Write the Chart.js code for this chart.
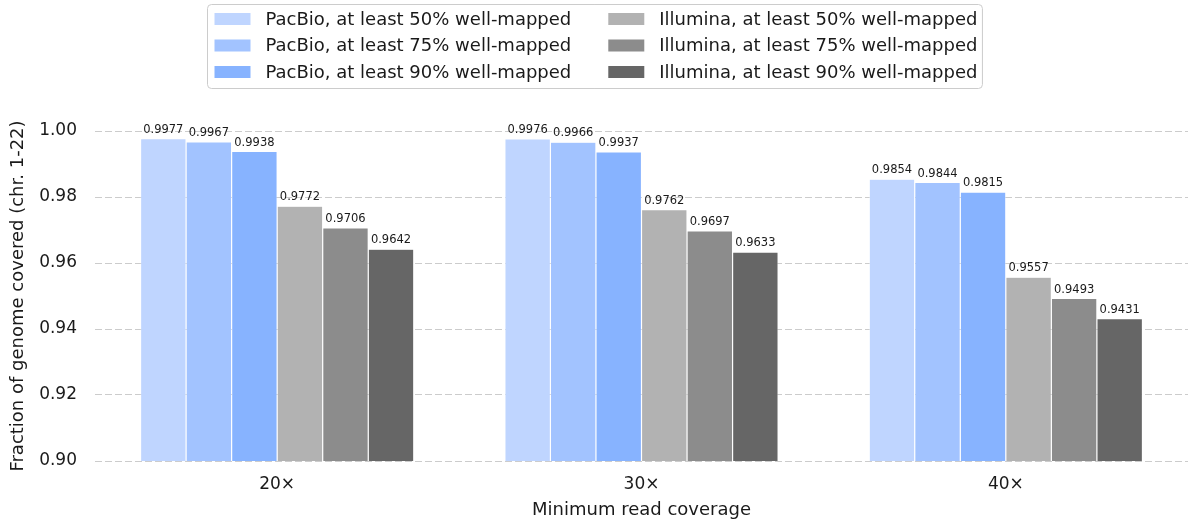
<!DOCTYPE html>
<html>
<head>
<meta charset="utf-8">
<script src="https://cdn.jsdelivr.net/npm/chart.js@4.4.0/dist/chart.umd.min.js"></script>
<style>
    html, body { margin: 0; padding: 0; background: #fff; }
    #wrap { width: 1189px; height: 522px; }
</style>
</head>
<body>
<div id="wrap"><canvas id="chart"></canvas></div>
<script>
// dados
const categories = ['20×', '30×', '40×'];
const pacbio50 = [0.9977, 0.9976, 0.9854];
const pacbio75 = [0.9967, 0.9966, 0.9844];
const pacbio90 = [0.9938, 0.9937, 0.9815];
const illumina50 = [0.9772, 0.9762, 0.9557];
const illumina75 = [0.9706, 0.9697, 0.9493];
const illumina90 = [0.9642, 0.9633, 0.9431];
const yMin = 0.90;
const yMax = 1.00;
const yStep = 0.02;

const FONT = "'DejaVu Sans', sans-serif";
const TEXT_COLOR = '#1a1a1a';

const series = [
    { label: 'PacBio, at least 50% well-mapped', data: pacbio50, color: '#bfd5ff' },
    { label: 'PacBio, at least 75% well-mapped', data: pacbio75, color: '#a2c3ff' },
    { label: 'PacBio, at least 90% well-mapped', data: pacbio90, color: '#87b3ff' },
    { label: 'Illumina, at least 50% well-mapped', data: illumina50, color: '#b2b2b2' },
    { label: 'Illumina, at least 75% well-mapped', data: illumina75, color: '#8c8c8c' },
    { label: 'Illumina, at least 90% well-mapped', data: illumina90, color: '#666666' }
];

// rótulos com o valor em cima de cada barra
const valueLabels = {
    id: 'valueLabels',
    afterDatasetsDraw(chart) {
        const ctx = chart.ctx;
        ctx.save();
        ctx.font = '11.5px ' + FONT;
        ctx.fillStyle = TEXT_COLOR;
        ctx.textAlign = 'center';
        ctx.textBaseline = 'bottom';
        chart.data.datasets.forEach((ds, i) => {
            chart.getDatasetMeta(i).data.forEach((bar, j) => {
                ctx.fillText(ds.data[j].toFixed(4), bar.x, bar.y - 3);
            });
        });
        ctx.restore();
    }
};

// legenda em duas colunas com moldura
const boxLegend = {
    id: 'boxLegend',
    afterDraw(chart) {
        const ctx = chart.ctx;
        const ds = chart.data.datasets;
        ctx.save();
        ctx.font = '18px ' + FONT;
        const boxW = 36, boxH = 12, gap = 15, colGap = 37;
        const w1 = Math.max(...ds.slice(0, 3).map(d => ctx.measureText(d.label).width));
        const w2 = Math.max(...ds.slice(3).map(d => ctx.measureText(d.label).width));
        const total = 7 + boxW + gap + w1 + colGap + boxW + gap + w2 + 5;
        const left = Math.round(chart.width / 2 - total / 2) + 0.5;
        const top = 4.5, height = 84;

        // moldura
        ctx.beginPath();
        ctx.roundRect(left, top, total, height, 4);
        ctx.fillStyle = 'rgba(255,255,255,0.8)';
        ctx.fill();
        ctx.strokeStyle = '#cccccc';
        ctx.lineWidth = 1;
        ctx.stroke();

        const rows = [19, 45.5, 72];
        const colX = [left + 7, left + 7 + boxW + gap + w1 + colGap];
        ctx.textAlign = 'left';
        ctx.textBaseline = 'middle';
        ds.forEach((d, i) => {
            const col = i < 3 ? 0 : 1;
            const y = rows[i % 3];
            const x = colX[col];
            ctx.fillStyle = d.backgroundColor;
            ctx.fillRect(x, y - boxH / 2, boxW, boxH);
            ctx.fillStyle = TEXT_COLOR;
            ctx.fillText(d.label, x + boxW + gap, y + 1);
        });
        ctx.restore();
    }
};

new Chart(document.getElementById('chart'), {
    type: 'bar',
    data: {
        labels: categories,
        datasets: series.map(s => ({
            label: s.label,
            data: s.data,
            backgroundColor: s.color,
            borderColor: 'rgba(255,255,255,0.7)',
            borderWidth: 0.6,
            categoryPercentage: 0.75,
            barPercentage: 1.0
        }))
    },
    options: {
        responsive: true,
        maintainAspectRatio: false,
        animation: false,
        layout: { padding: { top: 131, right: 1, left: 0, bottom: 0 } },
        plugins: {
            legend: { display: false },
            tooltip: { enabled: false }
        },
        scales: {
            x: {
                grid: { display: false },
                border: { display: false },
                ticks: { color: TEXT_COLOR, font: { family: FONT, size: 17 }, padding: 5 },
                title: {
                    display: true,
                    text: 'Minimum read coverage',
                    color: TEXT_COLOR,
                    font: { family: FONT, size: 18 },
                    padding: { top: 0, bottom: 1 }
                },
                afterFit(scale) { scale.height = 61; }
            },
            y: {
                min: yMin,
                max: yMax,
                grid: { color: '#cccccc', lineWidth: 1, drawTicks: false },
                border: { display: false, dash: [7, 3] },
                ticks: {
                    stepSize: yStep,
                    color: TEXT_COLOR,
                    font: { family: FONT, size: 17 },
                    padding: 18,
                    callback: v => v.toFixed(2)
                },
                title: {
                    display: true,
                    text: 'Fraction of genome covered (chr. 1-22)',
                    color: TEXT_COLOR,
                    font: { family: FONT, size: 18 },
                    padding: { top: 8, bottom: 0 }
                },
                afterFit(scale) { scale.width = 95; }
            }
        }
    },
    plugins: [valueLabels, boxLegend]
});
</script>
</body>
</html>
